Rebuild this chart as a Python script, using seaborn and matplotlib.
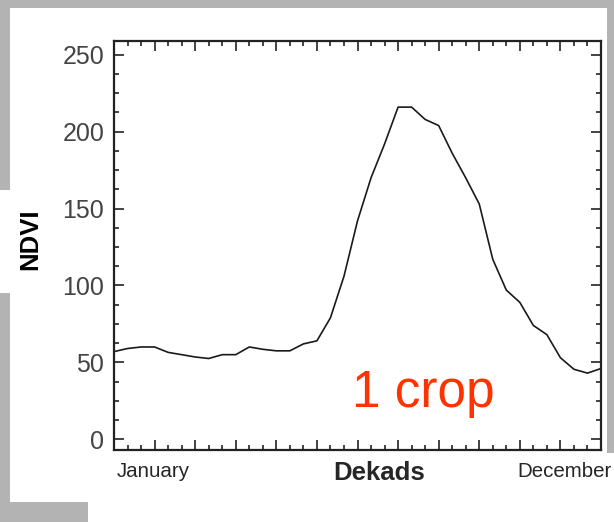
import numpy as np
import matplotlib
matplotlib.use("Agg")
import matplotlib.pyplot as plt
from matplotlib.patches import Rectangle
from matplotlib.ticker import MultipleLocator
import seaborn as sns

sns.set_style("ticks")
plt.rcParams['font.family'] = ['Liberation Sans', 'DejaVu Sans']

# one NDVI value per dekad (36 dekads in a year, plus closing point)
dekads = np.arange(37)
ndvi = [57, 59, 60, 60, 56.5, 55, 53.5, 52.5, 55, 55, 60, 58.5, 57.5, 57.5, 62, 64,
        79, 106, 142, 170, 192, 216, 216, 208, 204, 186, 170, 153, 117, 97, 89, 74,
        68, 53, 45.5, 43, 46]
month_labels = ["January", "December"]
note = "1 crop"

W, H = 614, 522
fig = plt.figure(figsize=(W / 100, H / 100), dpi=100, facecolor='#b3b3b3')

# white screenshot panels over the grey backdrop (pixel boxes, top-left origin)
def panel(x0, y0, x1, y1):
    fig.patches.append(Rectangle((x0 / W, 1 - y1 / H), (x1 - x0) / W, (y1 - y0) / H,
                                 transform=fig.transFigure, facecolor='white',
                                 edgecolor='none', zorder=-5))

panel(10, 8, 607, 502)
panel(88, 453, 614, 522)
panel(0, 190, 10, 293)

ax = fig.add_axes([114 / W, 1 - 450 / H, 487 / W, 409 / H])
ax.set_zorder(2)
ax.set_facecolor('white')
sns.lineplot(x=dekads, y=ndvi, ax=ax, color='#1a1a1a', lw=1.2)

ax.set_xlim(0, 36)
ax.set_ylim(-7, 259)
ax.xaxis.set_major_locator(MultipleLocator(3))
ax.xaxis.set_minor_locator(MultipleLocator(1))
ax.yaxis.set_major_locator(MultipleLocator(50))
ax.yaxis.set_minor_locator(MultipleLocator(12.5))
ax.tick_params(which='both', direction='in', top=True, right=True, width=1.2, color='#222')
ax.tick_params(which='major', length=7)
ax.tick_params(which='minor', length=3.6)
ax.tick_params(axis='x', labelbottom=False)
ax.tick_params(axis='y', labelsize=18, labelcolor='#444444', pad=7)
for s in ax.spines.values():
    s.set_linewidth(1.6)
    s.set_color('#222')

ax.set_ylabel("NDVI", fontsize=18.5, fontweight='bold')
ax.yaxis.set_label_coords(-0.148, 0.516)
ax.yaxis.label.set_color('black')
ax.set_xlabel("Dekads", fontsize=18.5, fontweight='bold', va='top')
ax.xaxis.set_label_coords(0.544, -0.026)

xt = ax.get_xaxis_transform()
ax.text(0.2, -0.03, month_labels[0], transform=xt, fontsize=14.8, va='top', ha='left')
ax.text(29.8, -0.03, month_labels[1], transform=xt, fontsize=14.8, va='top', ha='left',
        clip_on=False)

ax.text(0.489, 0.105, note, transform=ax.transAxes, fontsize=37, color='#ff3300',
        ha='left', va='baseline')

sns.despine(ax=ax, top=False, right=False)
fig.savefig("out.png", dpi=100, facecolor=fig.get_facecolor())
